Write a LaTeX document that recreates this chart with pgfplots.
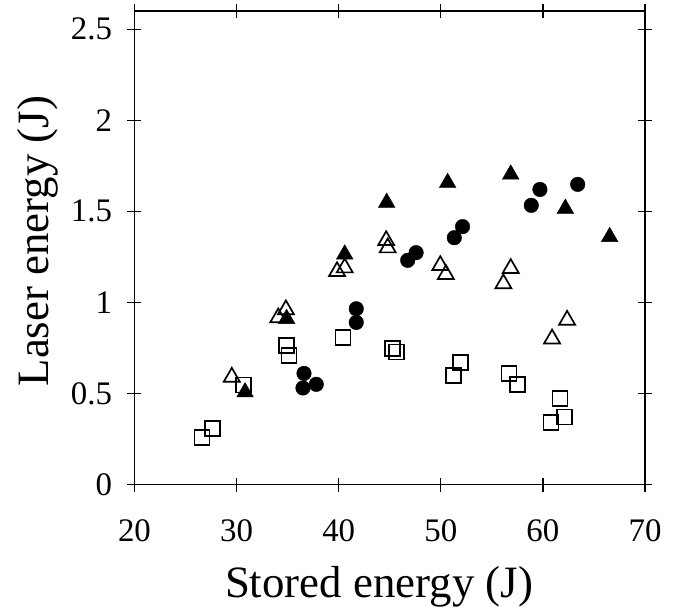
\documentclass[border=0pt]{standalone}
\usepackage{pgfplots}
\pgfplotsset{compat=1.18}
\usepackage{fontspec}
\setmainfont{Liberation Serif}
\begin{document}
\begin{tikzpicture}
\begin{axis}[
  name=main,
  scale only axis, width=510.5bp, height=473.5bp,
  xmin=20, xmax=70, ymin=0, ymax=2.6,
  xtick={20,30,...,70}, ytick={0,0.5,...,2.5},
  tick align=center, major tick length=14bp,
  axis line style={line width=1.3bp},
  every tick/.style={line width=1.3bp, black},
  /pgf/number format/assume math mode=true,
  ticklabel style={font=\fontsize{33}{39}\selectfont},
  xticklabel style={yshift=-25bp},
  yticklabel style={xshift=-12bp},
  xlabel={Stored energy (J)}, ylabel={Laser energy (J)},
  every axis x label/.style={at={(axis description cs:0.479,0)}, anchor=base, yshift=-112.5bp, font=\fontsize{45}{52}\selectfont},
  every axis y label/.style={at={(axis description cs:-0.1694,0.514)}, rotate=90, anchor=base, font=\fontsize{45}{52}\selectfont},
  clip=false,
]
% open squares
\addplot[only marks, mark=square, mark size=7.5bp, line width=1.7bp, black] coordinates {
(26.6,0.26)(27.64,0.306)(30.67,0.546)(34.9,0.765)(35.12,0.71)(40.42,0.806)
(45.3,0.746)(45.63,0.727)(51.25,0.599)(51.9,0.668)(56.68,0.61)(57.5,0.548)
(61.66,0.474)(60.8,0.339)(62.1,0.37)};
% open triangles
\addplot[only marks, mark=triangle, mark size=9.2bp, line width=1.7bp, black] coordinates {
(29.53,0.59)(34.08,0.916)(34.83,0.96)(39.84,1.17)(40.59,1.19)(44.65,1.34)
(44.8,1.30)(49.95,1.203)(50.5,1.154)(56.85,1.187)(56.13,1.103)(60.9,0.80)(62.37,0.903)};
% filled triangles
\addplot[only marks, mark=triangle*, mark size=9.6bp, black, mark options={fill=black}] coordinates {
(30.83,0.507)(34.9,0.91)(40.59,1.264)(44.7,1.548)(50.67,1.657)(56.85,1.703)
(62.2,1.515)(66.54,1.36)};
% filled circles
\addplot[only marks, mark=*, mark size=7.3bp, black, mark options={fill=black}] coordinates {
(36.6,0.61)(36.5,0.53)(37.8,0.55)(41.72,0.965)(41.72,0.89)(46.76,1.231)
(47.58,1.273)(51.32,1.355)(52.13,1.416)(58.86,1.533)(59.71,1.62)(63.41,1.648)};
\end{axis}
\path ([shift={(-134.5bp,-130.5bp)}]main.south west) rectangle ([shift={(35bp,11bp)}]main.north east);
\end{tikzpicture}
\end{document}
